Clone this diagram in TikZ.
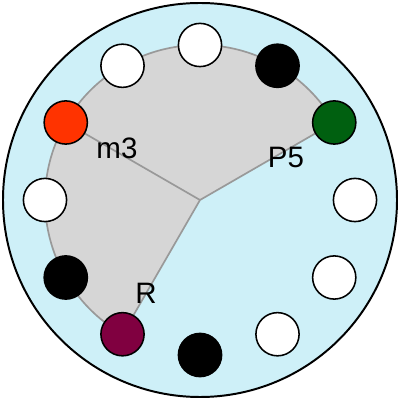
\documentclass[tikz,border=0pt]{standalone}
\usepackage{fontspec}
\setmainfont{Liberation Sans}
\usetikzlibrary{positioning}
\definecolor{dialblue}{RGB}{206,240,248}
\definecolor{sectorgray}{RGB}{214,214,214}
\definecolor{edgegray}{RGB}{153,153,153}
\definecolor{m3red}{RGB}{255,51,0}
\definecolor{p5green}{RGB}{0,96,16}
\definecolor{rmaroon}{RGB}{128,0,64}
\newcommand{\ringradius}{3.875cm}

\begin{document}
\begin{tikzpicture}[outer sep=0pt]
\tikzstyle{slot}=[
                  draw=black,
                  circle,
                  line width=1.1pt,
                  minimum size=1.08cm,
                  inner sep=0pt,
                  fill=white]

\tikzstyle{tag}=[
                  font=\fontsize{21pt}{24pt}\selectfont,
                  inner sep=0pt]

\useasboundingbox (-5,-5) rectangle (5,5);

\node[circle, draw=black, line width=1.4pt, fill=dialblue, minimum size=9.85cm] (dial) at (0,0) {};

\coordinate (hub) at (0,0);

% shaded sector
\fill[sectorgray] (hub) -- (30:\ringradius) arc (30:240:\ringradius) -- cycle;
\draw[edgegray, line width=1.2pt] (-120:\ringradius) arc (240:30:\ringradius);

\coordinate (m3pos) at (150:\ringradius);
\coordinate (p5pos) at (30:\ringradius);
\coordinate (rpos)  at (240:\ringradius);
\draw[edgegray, line width=1.2pt] (hub) -- (m3pos);
\draw[edgegray, line width=1.2pt] (hub) -- (p5pos);
\draw[edgegray, line width=1.2pt] (hub) -- (rpos);

\node[slot]               (s90)  at (90:\ringradius)  {};
\node[slot, fill=black]   (s60)  at (60:\ringradius)  {};
\node[slot, fill=p5green] (p5)   at (p5pos)           {};
\node[slot]               (s0)   at (0:\ringradius)   {};
\node[slot]               (s330) at (-30:\ringradius) {};
\node[slot]               (s300) at (-60:\ringradius) {};
\node[slot, fill=black]   (s270) at (-90:\ringradius) {};
\node[slot, fill=rmaroon] (r)    at (rpos)            {};
\node[slot, fill=black]   (s210) at (210:\ringradius) {};
\node[slot]               (s180) at (180:\ringradius) {};
\node[slot, fill=m3red]   (m3)   at (m3pos)           {};
\node[slot]               (s120) at (120:\ringradius) {};

\node[tag] (m3label) at (-2.075,1.3)   {m3};
\node[tag] (p5label) at (2.15,1.075)   {P5};
\node[tag] (rlabel)  at (-1.35,-2.325) {R};

\end{tikzpicture}
\end{document}
